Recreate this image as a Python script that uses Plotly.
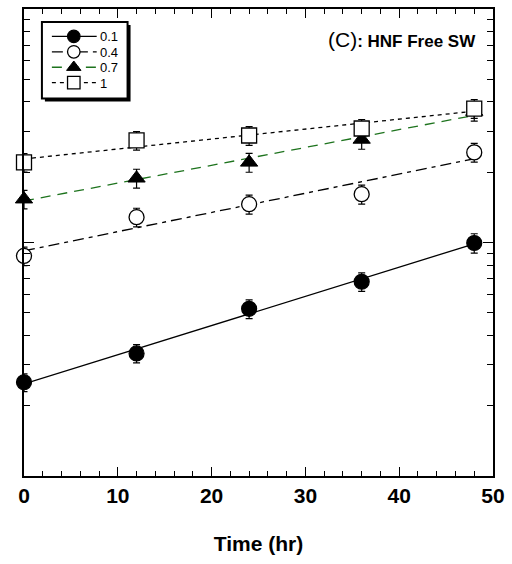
import numpy as np
import plotly.graph_objects as go

# Sampling times (hr)
time_hr = [0, 12, 24, 36, 48]

# Abundance for each treatment level (relative units, log axis)
series_names = ["0.1", "0.4", "0.7", "1"]
abund_01 = [0.252, 0.335, 0.520, 0.679, 0.995]
abund_04 = [0.876, 1.284, 1.459, 1.610, 2.432]
abund_07 = [1.533, 1.884, 2.204, 2.763, 3.637]
abund_10 = [2.204, 2.736, 2.873, 3.078, 3.746]

# Standard deviations
sd_01 = [0.022, 0.030, 0.048, 0.062, 0.095]
sd_04 = [0.080, 0.118, 0.135, 0.150, 0.225]
sd_07 = [0.140, 0.175, 0.205, 0.255, 0.330]
sd_10 = [0.200, 0.250, 0.265, 0.285, 0.345]

x_ticks = [0, 10, 20, 30, 40, 50]
x_minor = list(range(0, 51, 2))
y_decades = [0.1, 1, 10]
y_minor = [m * d for d in (0.1, 1) for m in range(2, 10)]

FONT = "Liberation Sans"

styles = [
    (dict(symbol="circle", color="black", line=dict(color="black", width=1.2)),
     dict(color="black", width=1.3, dash="solid")),
    (dict(symbol="circle", color="white", line=dict(color="black", width=1.3)),
     dict(color="black", width=1.3, dash="11px,5px,4px,5px")),
    (dict(symbol="triangle-up", color="black", line=dict(color="black", width=1)),
     dict(color="#1d731d", width=1.3, dash="10px,7px")),
    (dict(symbol="square", color="white", line=dict(color="black", width=1.3)),
     dict(color="black", width=1.3, dash="4px,4px")),
]
data = [(abund_01, sd_01), (abund_04, sd_04), (abund_07, sd_07), (abund_10, sd_10)]

fig = go.Figure()
t = np.array(time_hr, dtype=float)
for name, (vals, sd), (marker, line) in zip(series_names, data, styles):
    # exponential fit: straight line on the log axis
    slope, icpt = np.polyfit(t, np.log10(vals), 1)
    fit_x = np.array([t.min(), t.max()])
    fit_y = 10 ** (icpt + slope * fit_x)
    fig.add_trace(go.Scatter(
        x=fit_x, y=fit_y, mode="lines", line=line,
        showlegend=False, hoverinfo="skip", cliponaxis=False))
    fig.add_trace(go.Scatter(
        x=time_hr, y=vals, mode="markers", name=name,
        marker=dict(size=15, **marker), showlegend=False, cliponaxis=False,
        error_y=dict(type="data", array=sd, color="black",
                     thickness=1.2, width=3.5)))

# Key box drawn on an overlay axis measured in pixels of the plot area
key_box = dict(x0=42, x1=128, y0=20, y1=97)
key_rows = [34.5, 50, 65.5, 81]
key_line_x = [52, 97]
key_marker_x = 74
key_label_x = 99

fig.add_shape(type="rect", xref="x2", yref="y2",
              x0=key_box["x0"] + 3, x1=key_box["x1"] + 3,
              y0=key_box["y0"] + 3, y1=key_box["y1"] + 3,
              fillcolor="black", line=dict(width=0), layer="below")
fig.add_shape(type="rect", xref="x2", yref="y2", **key_box,
              fillcolor="white", line=dict(color="black", width=2),
              layer="below")
for name, row, (marker, line) in zip(series_names, key_rows, styles):
    fig.add_trace(go.Scatter(
        x=key_line_x, y=[row, row], xaxis="x2", yaxis="y2",
        mode="lines", line=line, showlegend=False, hoverinfo="skip"))
    fig.add_trace(go.Scatter(
        x=[key_marker_x], y=[row], xaxis="x2", yaxis="y2",
        mode="markers", marker=dict(size=12.5, **marker),
        showlegend=False, hoverinfo="skip"))
    fig.add_annotation(
        xref="x2", yref="y2", x=key_label_x, y=row + 0.5,
        xanchor="left", yanchor="middle", showarrow=False, text=name,
        borderpad=0, font=dict(family=FONT, size=13, color="black"))

fig.add_annotation(
    xref="paper", yref="paper", x=0.968, y=0.935,
    xanchor="right", yanchor="middle", showarrow=False,
    text="<span style='font-size:21px'>(C)</span><b>: HNF Free SW</b>",
    font=dict(family=FONT, size=17, color="black"))

axis_common = dict(showline=True, linecolor="black", linewidth=1.8,
                   mirror="allticks", ticks="inside", tickcolor="black",
                   showgrid=False, zeroline=False)

fig.update_layout(
    width=512, height=564,
    margin=dict(l=24, r=17, t=7, b=88),
    paper_bgcolor="white", plot_bgcolor="white",
    font=dict(family=FONT, color="black"),
    showlegend=False,
    xaxis=dict(range=[0, 50], tickvals=x_ticks, ticklen=9, tickwidth=1.2,
               tickfont=dict(size=21, family=FONT, weight="bold"),
               minor=dict(tickvals=x_minor, ticks="inside", ticklen=5,
                          tickcolor="black", tickwidth=1, showgrid=False),
               title=dict(text="Time (hr)", standoff=30,
                          font=dict(size=21, family=FONT, weight="bold")),
               **axis_common),
    yaxis=dict(type="log", range=[-1, 1], tickvals=y_decades, ticklen=10,
               tickwidth=1.2, showticklabels=False,
               minor=dict(tickvals=y_minor, ticks="inside", ticklen=6,
                          tickcolor="black", tickwidth=1, showgrid=False),
               **axis_common),
    xaxis2=dict(overlaying="x", anchor="y2", range=[24, 495], visible=False,
                fixedrange=True),
    yaxis2=dict(overlaying="y", anchor="x2", range=[476, 7], visible=False,
                fixedrange=True),
)

fig.write_html("out.html")
